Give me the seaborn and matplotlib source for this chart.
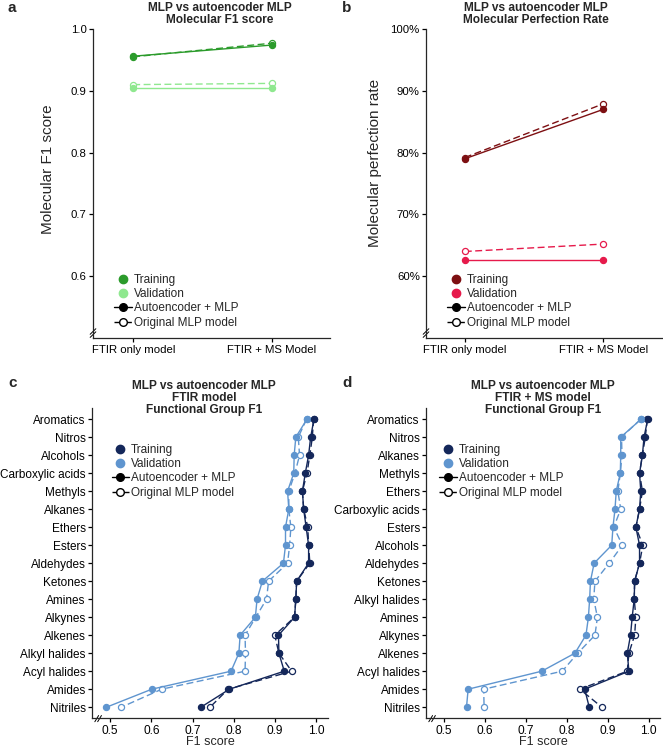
import matplotlib
matplotlib.use("Agg")
import matplotlib.pyplot as plt
import seaborn as sns
import numpy as np
import pandas as pd
from matplotlib.lines import Line2D
from matplotlib.ticker import FuncFormatter

# ---------------- data ----------------
models = ["FTIR only model", "FTIR + MS Model"]

a_train_ae = [0.956, 0.974]
a_train_orig = [0.955, 0.977]
a_val_ae = [0.905, 0.905]
a_val_orig = [0.910, 0.912]

b_train_ae = [79.0, 87.0]
b_train_orig = [79.2, 87.9]
b_val_ae = [62.6, 62.6]
b_val_orig = [64.0, 65.2]

c_groups = ["Aromatics", "Nitros", "Alcohols", "Carboxylic acids", "Methyls", "Alkanes",
            "Ethers", "Esters", "Aldehydes", "Ketones", "Amines", "Alkynes", "Alkenes",
            "Alkyl halides", "Acyl halides", "Amides", "Nitriles"]
c_train_ae = [0.994, 0.986, 0.981, 0.973, 0.966, 0.969, 0.975, 0.981, 0.981, 0.952, 0.950,
              0.947, 0.908, 0.909, 0.922, 0.789, 0.720]
c_train_orig = [0.993, 0.990, 0.984, 0.977, 0.966, 0.969, 0.979, 0.981, 0.984, 0.952, 0.950,
                0.947, 0.899, 0.909, 0.940, 0.786, 0.742]
c_val_ae = [0.977, 0.950, 0.946, 0.945, 0.930, 0.933, 0.925, 0.925, 0.920, 0.869, 0.856,
            0.852, 0.815, 0.812, 0.793, 0.601, 0.491]
c_val_orig = [0.976, 0.956, 0.959, 0.948, 0.933, 0.933, 0.938, 0.935, 0.930, 0.884, 0.879,
              0.853, 0.827, 0.828, 0.827, 0.625, 0.527]

d_groups = ["Aromatics", "Nitros", "Alkanes", "Methyls", "Ethers", "Carboxylic acids", "Esters",
            "Alcohols", "Aldehydes", "Ketones", "Alkyl halides", "Amines", "Alkynes", "Alkenes",
            "Acyl halides", "Amides", "Nitriles"]
d_train_ae = [0.998, 0.989, 0.985, 0.978, 0.981, 0.978, 0.969, 0.978, 0.978, 0.966, 0.965,
              0.960, 0.956, 0.948, 0.952, 0.844, 0.855]
d_train_orig = [0.997, 0.992, 0.985, 0.978, 0.985, 0.978, 0.969, 0.986, 0.978, 0.966, 0.965,
                0.969, 0.966, 0.952, 0.948, 0.832, 0.886]
d_val_ae = [0.982, 0.932, 0.932, 0.931, 0.921, 0.918, 0.913, 0.910, 0.867, 0.858, 0.856,
            0.853, 0.847, 0.820, 0.739, 0.559, 0.555]
d_val_orig = [0.981, 0.934, 0.935, 0.931, 0.925, 0.932, 0.915, 0.936, 0.904, 0.869, 0.866,
              0.875, 0.869, 0.827, 0.789, 0.597, 0.598]

# ---------------- style ----------------
sns.set_style("ticks")
plt.rcParams["font.family"] = ["Liberation Sans", "DejaVu Sans"]
plt.rcParams["axes.linewidth"] = 0.9
plt.rcParams["xtick.major.width"] = 0.9
plt.rcParams["ytick.major.width"] = 0.9
plt.rcParams["xtick.major.size"] = 3
plt.rcParams["ytick.major.size"] = 3
plt.rcParams["xtick.major.pad"] = 2
plt.rcParams["ytick.major.pad"] = 1.5
plt.rcParams["xtick.color"] = "black"
plt.rcParams["ytick.color"] = "black"

W, H = 663, 748
fig = plt.figure(figsize=(W / 100, H / 100), dpi=100)


def add_ax(l, r, t, b):
    return fig.add_axes([l / W, 1 - b / H, (r - l) / W, (b - t) / H])


TICK_FS = 8.2
LEG_FS = 8.5
TITLE_FS = 8.6
MS = 4.4
LW = 1.0
DASH = (0, (5, 2.5))


def draw(ax, x, y, color, orig, orient="x"):
    kw = dict(ax=ax, color=color, marker="o", markersize=MS, linewidth=LW,
              markeredgecolor=color, markeredgewidth=0.9, legend=False, orient=orient)
    if orig:
        kw.update(linestyle=DASH, markerfacecolor="white")
    else:
        kw.update(linestyle="-", markerfacecolor=color)
    sns.lineplot(x=x, y=y, **kw)


def legend(ax, c_train, c_val, loc, anchor):
    handles = [
        Line2D([], [], linestyle="none", marker="o", markersize=6, color=c_train),
        Line2D([], [], linestyle="none", marker="o", markersize=6, color=c_val),
        Line2D([], [], linestyle="-", marker="o", markersize=5.5, color="black", linewidth=LW),
        Line2D([], [], linestyle=DASH, marker="o", markersize=5.5, color="black",
               markerfacecolor="white", linewidth=LW),
    ]
    labels = ["Training", "Validation", "Autoencoder + MLP", "Original MLP model"]
    ax.legend(handles, labels, loc=loc, bbox_to_anchor=anchor, frameon=False,
              fontsize=LEG_FS, handlelength=1.5, handletextpad=0.15, labelspacing=0.2,
              borderpad=0, borderaxespad=0)


def ybreak(ax):
    ax.plot([-0.012, 0.012], [0.012, 0.030], transform=ax.transAxes, color="black",
            lw=0.7, clip_on=False)
    ax.plot([-0.012, 0.012], [0.002, 0.020], transform=ax.transAxes, color="black",
            lw=0.7, clip_on=False)


def xbreak(ax):
    ax.plot([0.012, 0.028], [-0.012, 0.008], transform=ax.transAxes, color="black",
            lw=0.7, clip_on=False)
    ax.plot([0.024, 0.040], [-0.012, 0.008], transform=ax.transAxes, color="black",
            lw=0.7, clip_on=False)


pos2 = np.arange(len(models))

# ---------------- panel a ----------------
axa = add_ax(93, 330, 29, 338)
ga, la = "#2b9b2b", "#8fe88f"
draw(axa, pos2, a_train_orig, ga, True)
draw(axa, pos2, a_val_orig, la, True)
draw(axa, pos2, a_train_ae, ga, False)
draw(axa, pos2, a_val_ae, la, False)
axa.set_xlim(-0.29, 1.42)
axa.set_ylim(0.5, 1.0)
axa.set_yticks([0.6, 0.7, 0.8, 0.9, 1.0])
axa.set_yticklabels(["0.6", "0.7", "0.8", "0.9", "1.0"], fontsize=TICK_FS)
axa.set_xticks(pos2)
axa.set_xticklabels(models, fontsize=TICK_FS)
axa.set_ylabel("Molecular F1 score", fontsize=11)
axa.yaxis.set_label_coords(-38 / 237, 0.545)
axa.set_title("MLP vs autoencoder MLP\nMolecular F1 score", fontsize=TITLE_FS,
              fontweight="bold", pad=4, linespacing=1.0, x=0.536)
legend(axa, ga, la, "lower left", (0.09, 0.03))
ybreak(axa)

# ---------------- panel b ----------------
axb = add_ax(426, 663, 29, 338)
gb, lb = "#7d0f12", "#e61a4b"
draw(axb, pos2, b_train_orig, gb, True)
draw(axb, pos2, b_val_orig, lb, True)
draw(axb, pos2, b_train_ae, gb, False)
draw(axb, pos2, b_val_ae, lb, False)
axb.set_xlim(-0.28, 1.43)
axb.set_ylim(50, 100)
axb.set_yticks([60, 70, 80, 90, 100])
axb.yaxis.set_major_formatter(FuncFormatter(lambda v, p: f"{v:.0f}%"))
axb.tick_params(axis="y", labelsize=TICK_FS)
axb.set_xticks(pos2)
axb.set_xticklabels(models, fontsize=TICK_FS)
axb.set_ylabel("Molecular perfection rate", fontsize=11)
axb.yaxis.set_label_coords(-44 / 237, 0.565)
axb.set_title("MLP vs autoencoder MLP\nMolecular Perfection Rate", fontsize=TITLE_FS,
              fontweight="bold", pad=4, linespacing=1.0, x=0.464)
legend(axb, gb, lb, "lower left", (0.09, 0.03))
ybreak(axb)

# ---------------- panels c, d ----------------
gc, lc = "#14275a", "#5f95cf"


def fg_panel(ax, groups, tr_ae, tr_or, va_ae, va_or, title, tx, lx):
    yy = np.arange(len(groups))
    draw(ax, va_or, yy, lc, True, orient="y")
    draw(ax, tr_or, yy, gc, True, orient="y")
    draw(ax, va_ae, yy, lc, False, orient="y")
    draw(ax, tr_ae, yy, gc, False, orient="y")
    ax.set_ylim(len(groups) - 0.4, -0.62)
    ax.set_yticks(yy)
    ax.set_yticklabels(groups, fontsize=8.5)
    ax.set_xlim(0.456, 1.028)
    ax.set_xticks([0.5, 0.6, 0.7, 0.8, 0.9, 1.0])
    ax.set_xticklabels(["0.5", "0.6", "0.7", "0.8", "0.9", "1.0"], fontsize=8.6)
    ax.set_xlabel("F1 score", fontsize=9, labelpad=-0.5)
    ax.set_ylabel("")
    ax.set_title(title, fontsize=TITLE_FS, fontweight="bold", pad=0, linespacing=1.0,
                 x=tx, y=0.985)
    legend(ax, gc, lc, "upper left", (lx, 0.885))
    xbreak(ax)


axc = add_ax(92, 328, 408, 718)
fg_panel(axc, c_groups, c_train_ae, c_train_orig, c_val_ae, c_val_orig,
         "MLP vs autoencoder MLP\nFTIR model\nFunctional Group F1", 0.475, 0.083)
axd = add_ax(426, 660, 408, 718)
fg_panel(axd, d_groups, d_train_ae, d_train_orig, d_val_ae, d_val_orig,
         "MLP vs autoencoder MLP\nFTIR + MS model\nFunctional Group F1", 0.5, 0.056)

for ax in (axa, axb, axc, axd):
    sns.despine(ax=ax)

for lab, (x, y) in zip("abcd", [(8, 12), (342, 12), (8, 387), (342, 387)]):
    fig.text(x / W, 1 - y / H, lab, fontsize=11, fontweight="bold", ha="left", va="baseline")

fig.savefig("out.png", dpi=100)
